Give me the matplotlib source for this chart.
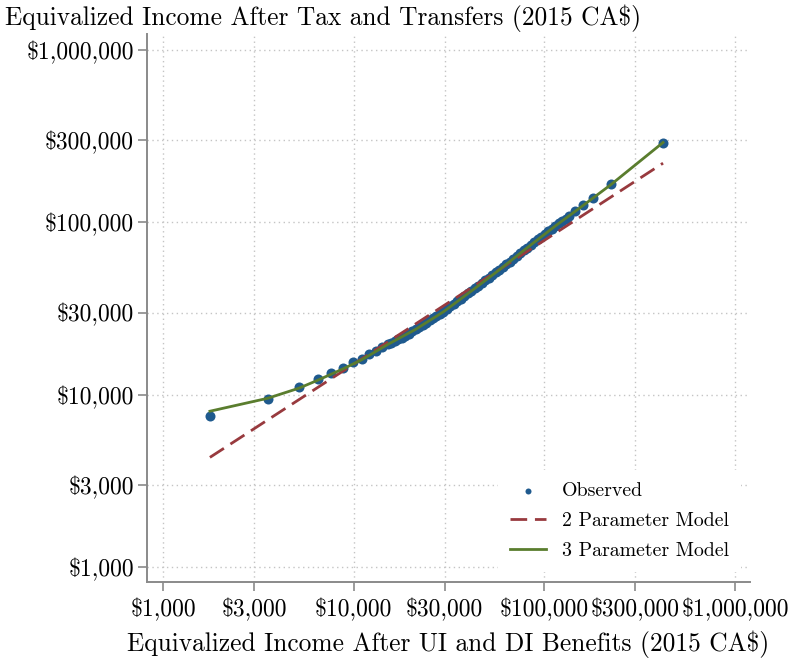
import matplotlib
matplotlib.use('Agg')
import matplotlib.pyplot as plt
from matplotlib.ticker import FixedLocator, FixedFormatter, NullLocator

# observed points
obs_x = [1762, 3546, 5152, 6478, 7578, 8758, 9881, 11013, 11980, 13040, 14015,
         15066, 15715, 16394, 17100, 17838, 18607, 19409, 20246, 21117, 22027,
         22978, 23968, 25000, 26078, 27200, 28372, 29593, 30868, 32200, 33588,
         35037, 36547, 38130, 39773, 41480, 43268, 45130, 47075, 49100, 51216,
         53420, 55722, 58130, 60635, 63240, 65966, 68830, 71797, 74880, 78107,
         81470, 84981, 88640, 92460, 96450, 100607, 104950, 109473, 114200,
         119122, 124230, 129584, 135200, 145300, 160000, 180500, 224300, 419800]
obs_y = [7507, 9417, 11054, 12300, 13322, 14240, 15430, 16063, 17168, 17874, 18860,
         19630, 20066, 20510, 20950, 21400, 22007, 22630, 23310, 24010, 24724,
         25460, 26219, 27000, 27784, 28590, 29466, 30370, 31436, 32540, 33690,
         34880, 36113, 37390, 38712, 40080, 41520, 43010, 44553, 46150, 47825,
         49560, 51343, 53190, 55066, 57010, 59179, 61430, 63737, 66130, 68735,
         71440, 74164, 76990, 79818, 82750, 85722, 88800, 91991, 95300,
         98670, 102160, 105210, 108350, 115800, 125500, 137800, 166100, 290900]

# 2 parameter model (straight line in logs)
m2_x = [1762, 10000, 100000, 419800]
m2_y = [4330, 15050, 78650, 220700]

# 3 parameter model
m3_x = [1762, 3546, 5152, 6478, 8758, 11013, 15066, 21117, 29593, 41480,
        58130, 81470, 114200, 160000, 224300, 419800]
m3_y = [8023, 9543, 10906, 12137, 14100, 15950, 19550, 23950, 30300, 40000,
        53100, 71400, 95300, 125500, 166100, 290900]

tick_vals = [1000, 3000, 10000, 30000, 100000, 300000, 1000000]
tick_labels = [r'\$1,000', r'\$3,000', r'\$10,000', r'\$30,000', r'\$100,000',
               r'\$300,000', r'\$1,000,000']

plt.rcParams['font.family'] = ['cmr10', 'DejaVu Serif']
plt.rcParams['axes.unicode_minus'] = False

axis_gray = '#8a8a8a'

fig = plt.figure(figsize=(7.89, 6.62), dpi=100)
ax = fig.add_axes([147/789, 1 - 582/662, 603/789, 548/662])

ax.set_xscale('log')
ax.set_yscale('log')
ax.set_xlim(824, 1.2e6)
ax.set_ylim(819, 1.24e6)

ax.scatter(obs_x, obs_y, s=52, color='#1f5a8e', linewidths=0, zorder=3, label='Observed')
ax.plot(m2_x, m2_y, color='#983a3e', lw=2, dashes=(6, 2.8), zorder=4, label='2 Parameter Model')
ax.plot(m3_x, m3_y, color='#5a7d2e', lw=2, zorder=5, label='3 Parameter Model')

for axis in (ax.xaxis, ax.yaxis):
    axis.set_major_locator(FixedLocator(tick_vals))
    axis.set_major_formatter(FixedFormatter(tick_labels))
    axis.set_minor_locator(NullLocator())

ax.grid(True, which='major', color='#c4c4c4', lw=1, linestyle=(0, (1, 2.5)))
ax.set_axisbelow(True)

for side in ('top', 'right'):
    ax.spines[side].set_visible(False)
for side in ('left', 'bottom'):
    ax.spines[side].set_color(axis_gray)
    ax.spines[side].set_linewidth(1.4)
ax.tick_params(axis='both', which='major', color=axis_gray, length=6.5, width=1.2,
               labelsize=17)
ax.tick_params(axis='x', pad=5)
ax.tick_params(axis='y', pad=3)

ax.set_xlabel(r'Equivalized Income After UI and DI Benefits (2015 CA\$)', fontsize=18.3, labelpad=7)
fig.text(0.006, 0.973, r'Equivalized Income After Tax and Transfers (2015 CA\$)',
         fontsize=18.3, ha='left', va='center')

leg = ax.legend(loc='lower right', bbox_to_anchor=(0.985, 0.018), borderaxespad=0,
                fontsize=14.3, frameon=True, fancybox=False, framealpha=1,
                facecolor='white', edgecolor='none', handlelength=1.8,
                handletextpad=0.8, labelspacing=0.62, borderpad=0.6,
                markerscale=0.6)

fig.savefig('out.png', dpi=100)
